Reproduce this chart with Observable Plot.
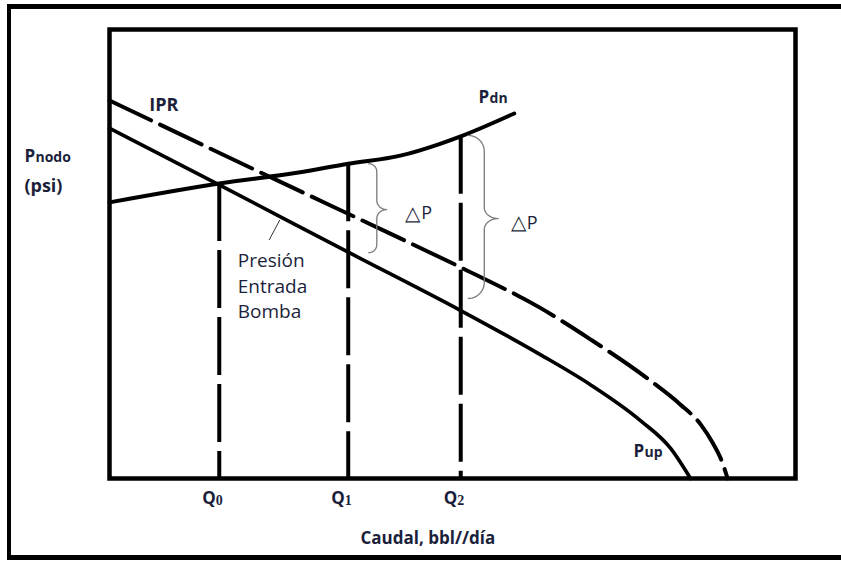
<!DOCTYPE html>
<html>
<head>
<meta charset="utf-8">
<script src="https://cdn.jsdelivr.net/npm/d3@7"></script>
<script src="https://cdn.jsdelivr.net/npm/@observablehq/plot@0.6"></script>
<style>
  html, body { margin: 0; padding: 0; background: #fff; overflow: hidden; }
  #wrap { position: relative; width: 841px; height: 561px; overflow: hidden; }
  #border { position: absolute; left: 7px; top: 4px; width: 900px; height: 546px;
            border: 5px solid #000; border-left-width: 4px; pointer-events: none; }
</style>
</head>
<body>
<div id="wrap"><div id="chart"></div><div id="border"></div></div>
<script>
// Nodal analysis sketch: caudal (x) vs. node pressure (y), relative units 0–100

// Discharge pressure curve (Pdn)
const pdnQ = [0, 16.0, 27.8, 34.8, 42.4, 48.3, 51.2, 59.0];
const pdnP = [61.5, 65.7, 68.2, 70.1, 71.9, 74.6, 76.2, 81.3];

// Intake pressure curve (Pup)
const pupQ = [0, 16.0, 34.8, 51.2, 62.8, 70.1, 77.4, 81.8, 84.7];
const pupP = [78.0, 65.4, 50.4, 37.4, 27.6, 20.9, 12.9, 6.7, 0];

// Inflow performance relationship (IPR)
const iprQ = [0, 25, 40, 51.5, 62.8, 70.1, 78.4, 83.2, 86.2, 87.9, 89.4, 90.1];
const iprP = [84.2, 66.0, 55.2, 46.8, 38.0, 31.0, 22.3, 16.5, 12.0, 8.0, 3.3, 0];

// Operating rates and the discharge pressure reached at each
const qNames = ["0", "1", "2"];
const qValues = [16.0, 34.8, 51.2];
const qPdn = [65.7, 70.1, 76.2];

// Pressure differences bracketed at Q1 and Q2
const dpTop = [70.1, 76.4];
const dpBottom = [50.3, 40.1];

const W = 841, H = 561, mL = 109, mR = 46, mT = 29, mB = 83;
const kx = (W - mL - mR) / 100, ky = (H - mT - mB) / 100;
const ink = "#1b1f3b";

const toRows = (xs, ys) => xs.map((q, i) => ({q, p: ys[i]}));

// Curly brace opening to the left; radii are in pixels
function brace(xq, yTop, yTip, yBot, re, rtx, rty) {
  const X = xq * kx, T = -yTop * ky, M = -yTip * ky, B = -yBot * ky;
  const pts = [];
  const arc = (cx, cy, rx, ry, a0, a1) => {
    for (let i = 0; i <= 14; i++) {
      const a = (a0 + (a1 - a0) * i / 14) * Math.PI / 180;
      pts.push([cx + rx * Math.cos(a), cy + ry * Math.sin(a)]);
    }
  };
  arc(X, T + re, re, re, -90, 0);
  arc(X + re + rtx, M - rty, rtx, rty, 180, 90);
  arc(X + re + rtx, M + rty, rtx, rty, -90, -180);
  arc(X, B - re, re, re, 0, 90);
  return pts.map(([u, v]) => ({x: u / kx, y: -v / ky}));
}

const brace1 = brace(37.8, dpTop[0], 59.9, dpBottom[0], 8, 10, 9);
const brace2 = brace(52.3, dpTop[1], 57.9, dpBottom[1], 16, 14, 11);

const pLabels = [
  {x: 53.8, y: 84.9, main: "P", sub: "dn"},
  {x: 76.4, y: 6.1, main: "P", sub: "up"},
  {x: -12.4, y: 71.8, main: "P", sub: "nodo"}
];
const qLabels = qValues.map((q, i) => ({x: q, y: -4.4, sub: qNames[i]}));

const chart = Plot.plot({
  width: W, height: H,
  marginLeft: mL, marginRight: mR, marginTop: mT, marginBottom: mB,
  x: {domain: [0, 100], axis: null},
  y: {domain: [0, 100], axis: null},
  style: {fontFamily: "'Open Sans', sans-serif", background: "transparent", overflow: "visible"},
  marks: [
    Plot.frame({stroke: "#000", strokeWidth: 4.5}),
    // operating-rate verticals
    Plot.ruleX(qValues.map((q, i) => ({q, top: qPdn[i], base: 0})),
      {x: "q", y1: "top", y2: "base", stroke: "#000", strokeWidth: 4, strokeDasharray: "58,9"}),
    // curves
    Plot.line(toRows(iprQ, iprP), {x: "q", y: "p", curve: "monotone-x", stroke: "#000",
      strokeWidth: 4, strokeDasharray: "46,10"}),
    Plot.line(toRows(pupQ, pupP), {x: "q", y: "p", curve: "monotone-x", stroke: "#000", strokeWidth: 3.6}),
    Plot.line(toRows(pdnQ, pdnP), {x: "q", y: "p", curve: "monotone-x", stroke: "#000", strokeWidth: 4}),
    // braces
    Plot.line(brace1, {x: "x", y: "y", stroke: "#7a7a7a", strokeWidth: 1.3}),
    Plot.line(brace2, {x: "x", y: "y", stroke: "#7a7a7a", strokeWidth: 1.3}),
    // leader line for the intake label
    Plot.line([{x: 24.8, y: 57.5}, {x: 23.3, y: 53.2}], {x: "x", y: "y", stroke: "#333", strokeWidth: 1}),
    // labels
    Plot.text([{x: 5.8, y: 83.2, t: "IPR"}], {x: "x", y: "y", text: "t", textAnchor: "start",
      fontWeight: "bold", fontSize: 18, fill: ink}),
    Plot.text(pLabels, {x: "x", y: "y", text: "main", textAnchor: "start",
      fontWeight: "bold", fontSize: 17, fill: ink}),
    Plot.text(pLabels, {x: "x", y: "y", text: "sub", textAnchor: "start", dx: 11, dy: 1.5,
      fontWeight: "bold", fontSize: 14, fill: ink}),
    Plot.text([{x: -12.4, y: 65.0, t: "(psi)"}], {x: "x", y: "y", text: "t", textAnchor: "start",
      fontWeight: "bold", fontSize: 18, fill: ink}),
    Plot.text(qLabels, {x: "x", y: "y", text: () => "Q", textAnchor: "start", dx: -17,
      fontWeight: "bold", fontSize: 17, fill: ink}),
    Plot.text(qLabels, {x: "x", y: "y", text: "sub", textAnchor: "start", dx: -3.5, dy: 2,
      fontFamily: "'Liberation Serif', serif", fontWeight: "bold", fontSize: 14, fill: ink}),
    Plot.text([{x: 46.4, y: -13.3, t: "Caudal, bbl//día"}], {x: "x", y: "y", text: "t",
      fontWeight: "bold", fontSize: 17, fill: ink}),
    Plot.text([{x: 18.7, y: 51.1, t: "Presión\nEntrada\nBomba"}], {x: "x", y: "y", text: "t",
      textAnchor: "start", lineAnchor: "top", lineHeight: 1.34, fontSize: 19, fill: ink}),
    // delta-P annotations
    Plot.text([{x: 43.1, y: 59.1}, {x: 58.5, y: 56.9}], {x: "x", y: "y", text: () => "△",
      textAnchor: "start", fontSize: 20, fill: ink}),
    Plot.text([{x: 43.1, y: 59.1}, {x: 58.5, y: 56.9}], {x: "x", y: "y", text: () => "P",
      textAnchor: "start", dx: 16, fontSize: 18, fill: ink})
  ]
});
document.getElementById("chart").appendChild(chart);
</script>
</body>
</html>
